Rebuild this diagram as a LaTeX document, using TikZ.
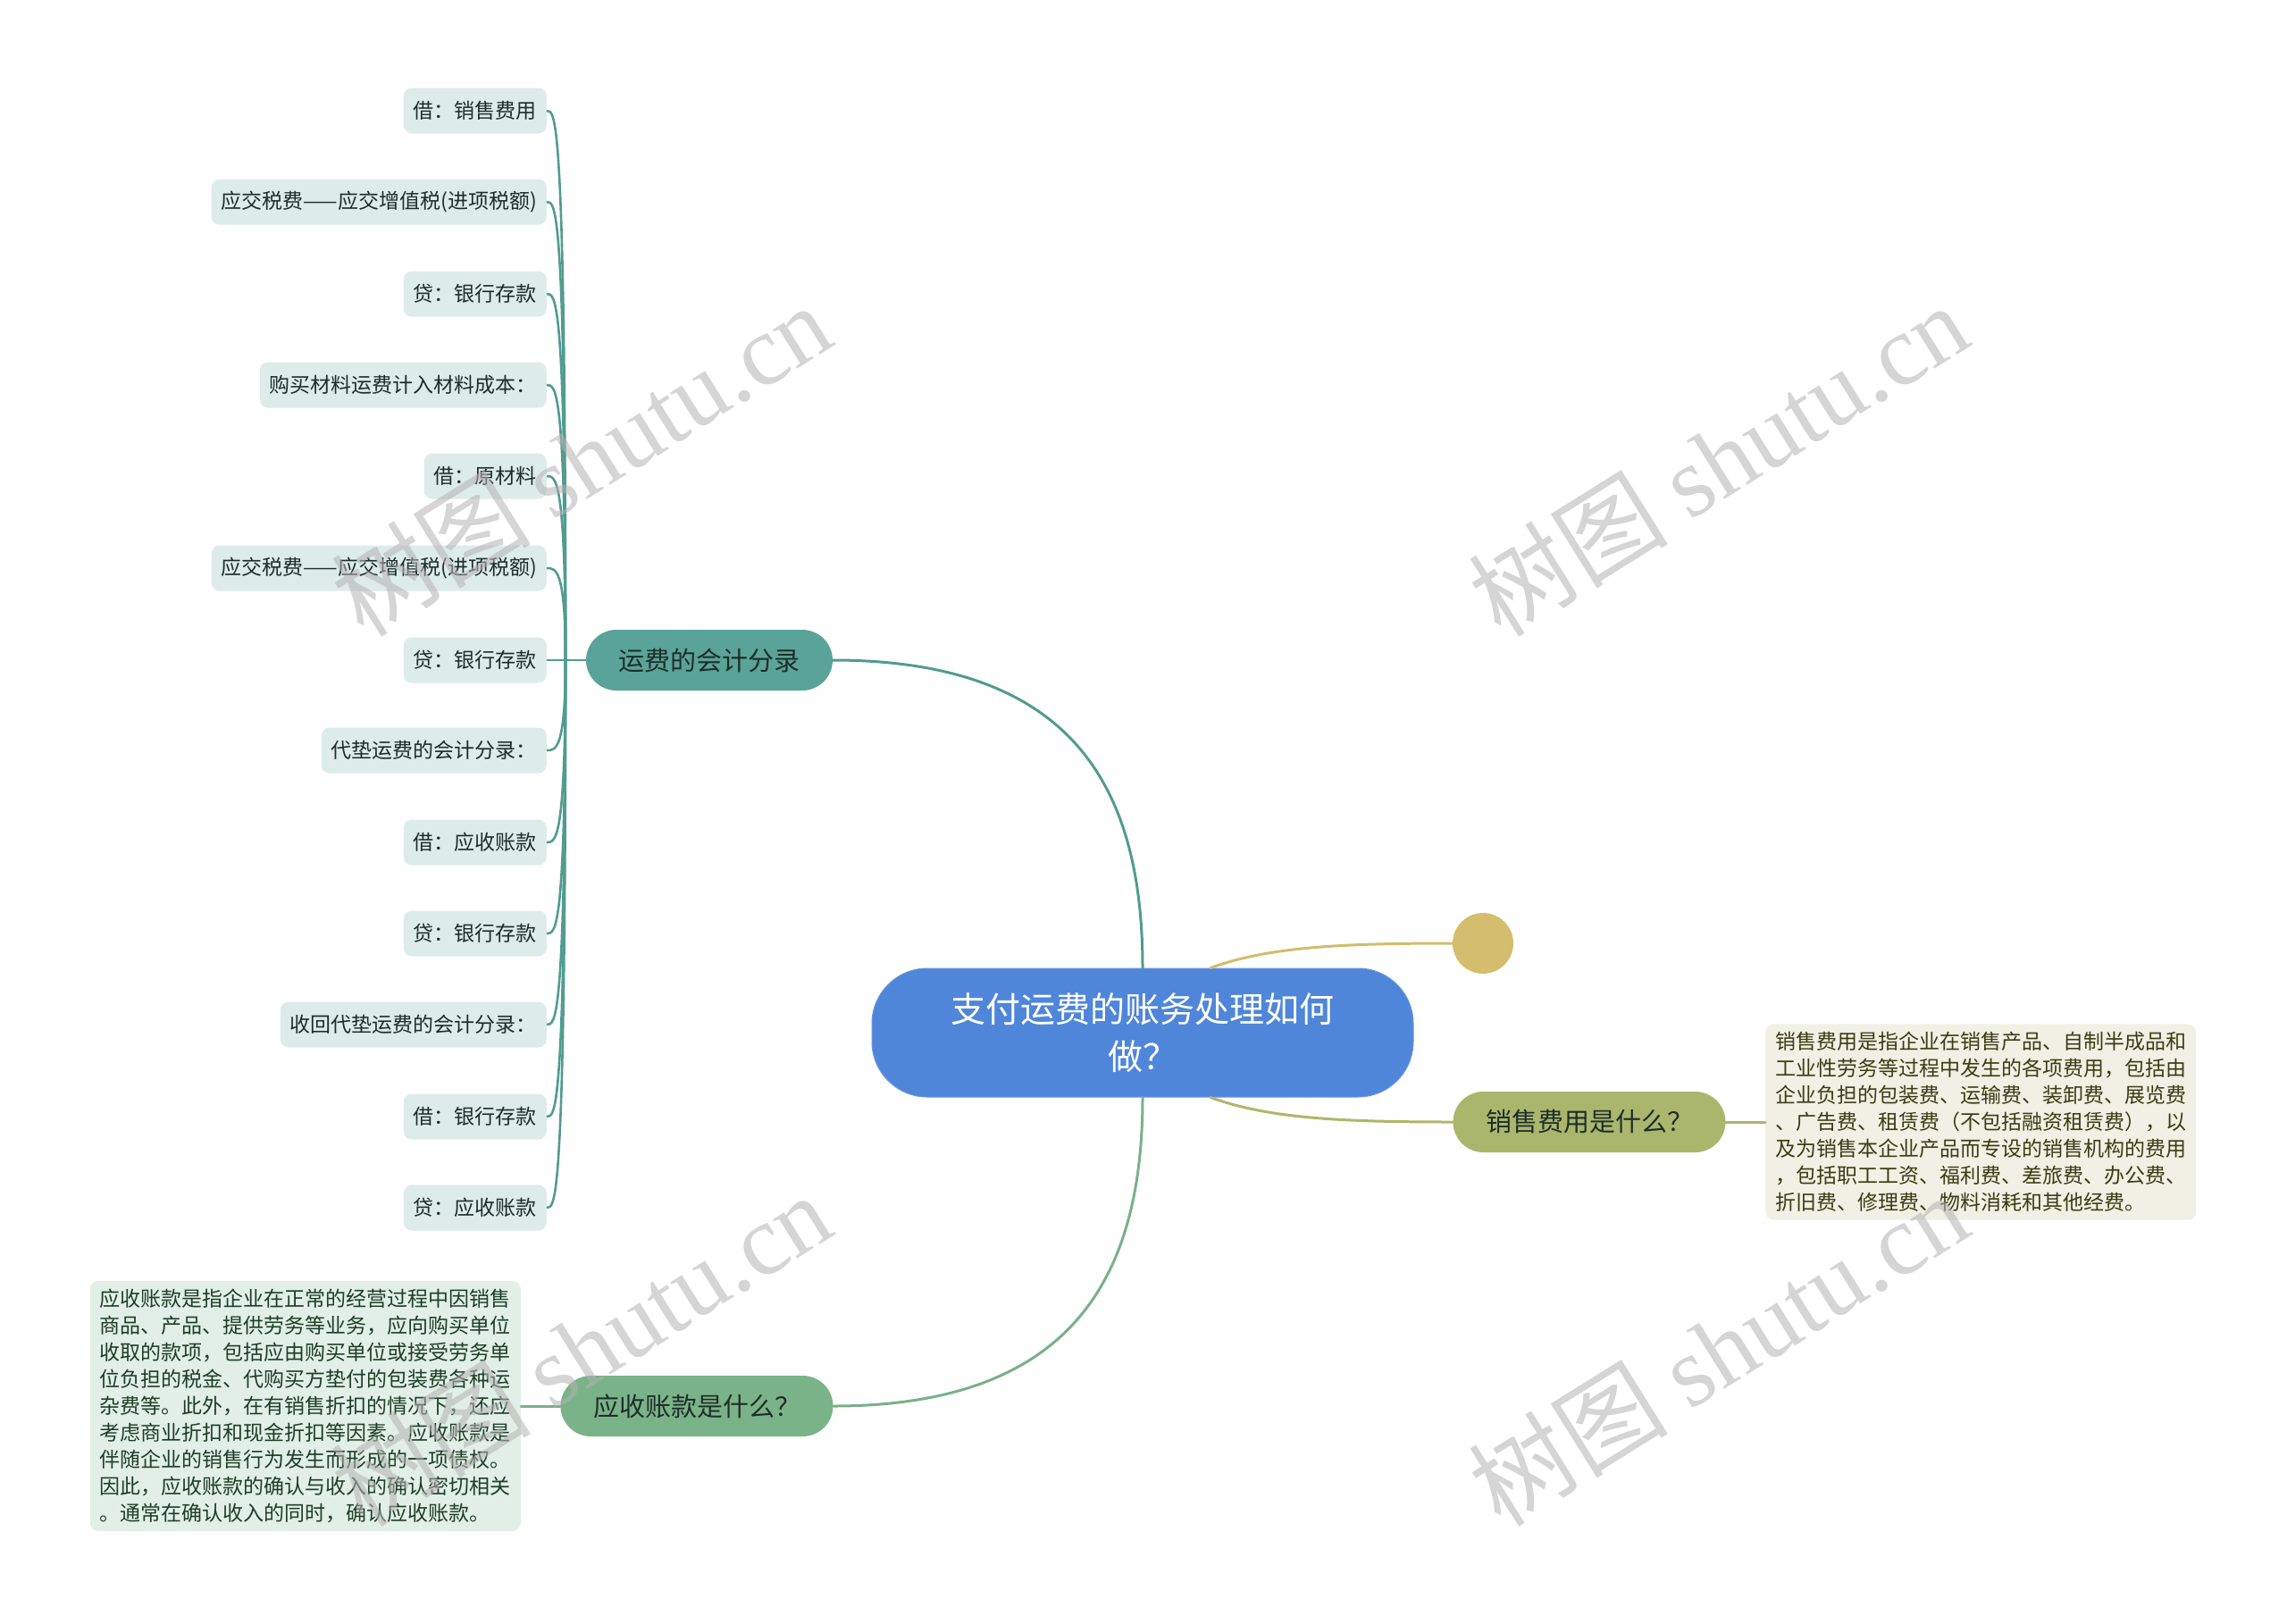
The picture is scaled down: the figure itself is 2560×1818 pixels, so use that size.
\documentclass[tikz,border=0pt]{standalone}
\usepackage{fontspec}
\setmainfont{Noto Sans CJK SC}
\newfontfamily\wmlatin{Liberation Serif}
\usepackage{tikz}
\usetikzlibrary{positioning}
\definecolor{rootfill}{RGB}{79,134,217}
\definecolor{tealfill}{RGB}{90,163,152}
\definecolor{tealline}{RGB}{82,155,144}
\definecolor{leaffill}{RGB}{221,236,233}
\definecolor{olivefill}{RGB}{170,182,108}
\definecolor{oliveline}{RGB}{176,182,106}
\definecolor{goldfill}{RGB}{212,189,108}
\definecolor{goldline}{RGB}{210,188,108}
\definecolor{olivenote}{RGB}{240,241,228}
\definecolor{olivetext}{RGB}{58,60,20}
\definecolor{greenfill}{RGB}{123,179,137}
\definecolor{greenline}{RGB}{122,176,136}
\definecolor{greennote}{RGB}{226,239,230}
\definecolor{greentext}{RGB}{30,62,38}
\definecolor{darktext}{RGB}{30,45,42}
\tikzset{
  rootbox/.style={
    rectangle, rounded corners=62pt, fill=rootfill, draw=rootfill!85!white,
    line width=1pt, text=white, align=center,
    minimum width=606pt, minimum height=144pt,
    font=\fontsize{39}{53}\selectfont},
  branchbox/.style={
    rectangle, rounded corners=34pt, minimum height=68pt,
    text=darktext, font=\fontsize{29}{34}\selectfont},
  leafbox/.style={
    rectangle, rounded corners=9pt, fill=leaffill, anchor=east,
    inner xsep=11pt, minimum height=51pt, text=darktext,
    font=\fontsize{23}{27}\selectfont},
  notebox/.style={
    rectangle, rounded corners=9pt, align=left,
    inner xsep=11pt, inner ysep=9pt,
    font=\fontsize{23}{30}\selectfont},
  link/.style={line width=3pt, line cap=round},
  leaflink/.style={line width=2.6pt, color=tealline},
  watermark/.style={text=black!30, opacity=0.55, rotate=32,
    font=\fontsize{112}{114}\selectfont}
}

\begin{document}
\begin{tikzpicture}[x=1pt,y=-1pt]
  \useasboundingbox (0,0) rectangle (2560,1818);

  %% Root
  \node[rootbox] (root) at (1279,1156) {支付运费的账务处理如何\\做？};

  %% Branches
  \node[branchbox, fill=tealfill, minimum width=276pt]
    (yunfei) at (794,739) {运费的会计分录};
  \node[branchbox, fill=olivefill, minimum width=305pt]
    (xiaoshou) at (1779,1256) {销售费用是什么？};
  \node[branchbox, fill=greenfill, minimum width=305pt]
    (yingshou) at (780,1574) {应收账款是什么？};
  \node[circle, fill=goldfill, minimum size=68pt, inner sep=0pt]
    (dot) at (1660,1056) {};

  %% Notes
  \node[notebox, fill=olivenote, text=olivetext, anchor=west]
    (xsnote) at (1976,1256)
    {销售费用是指企业在销售产品、自制半成品和\\
     工业性劳务等过程中发生的各项费用，包括由\\
     企业负担的包装费、运输费、装卸费、展览费\\
     、广告费、租赁费（不包括融资租赁费），以\\
     及为销售本企业产品而专设的销售机构的费用\\
     ，包括职工工资、福利费、差旅费、办公费、\\
     折旧费、修理费、物料消耗和其他经费。};
  \node[notebox, fill=greennote, text=greentext, anchor=east]
    (ysnote) at (583,1574)
    {应收账款是指企业在正常的经营过程中因销售\\
     商品、产品、提供劳务等业务，应向购买单位\\
     收取的款项，包括应由购买单位或接受劳务单\\
     位负担的税金、代购买方垫付的包装费各种运\\
     杂费等。此外，在有销售折扣的情况下，还应\\
     考虑商业折扣和现金折扣等因素。应收账款是\\
     伴随企业的销售行为发生而形成的一项债权。\\
     因此，应收账款的确认与收入的确认密切相关\\
     。通常在确认收入的同时，确认应收账款。};

  %% Leaves of the shipping-fee branch
  \node[leafbox] (l1)  at (612,124)  {借：销售费用};
  \node[leafbox] (l2)  at (612,226)  {应交税费——应交增值税(进项税额)};
  \node[leafbox] (l3)  at (612,329)  {贷：银行存款};
  \node[leafbox] (l4)  at (612,431)  {购买材料运费计入材料成本：};
  \node[leafbox] (l5)  at (612,533)  {借：原材料};
  \node[leafbox] (l6)  at (612,636)  {应交税费——应交增值税(进项税额)};
  \node[leafbox] (l7)  at (612,739)  {贷：银行存款};
  \node[leafbox] (l8)  at (612,840)  {代垫运费的会计分录：};
  \node[leafbox] (l9)  at (612,943)  {借：应收账款};
  \node[leafbox] (l10) at (612,1045) {贷：银行存款};
  \node[leafbox] (l11) at (612,1147) {收回代垫运费的会计分录：};
  \node[leafbox] (l12) at (612,1250) {借：银行存款};
  \node[leafbox] (l13) at (612,1352) {贷：应收账款};

  \coordinate (spine) at (633,739);

  %% Root -> branches
  \draw[link, tealline] (yunfei.east) .. controls (1200,739) and (1279,880) .. (root.north);
  \draw[link, greenline] (root.south) .. controls (1279,1430) and (1200,1574) .. (yingshou.east);
  \draw[link, goldline] ([xshift=76pt]root.north) .. controls (1420,1060) and (1500,1056) .. (dot.west);
  \draw[link, oliveline] ([xshift=76pt]root.south) .. controls (1420,1252) and (1500,1256) .. (xiaoshou.west);

  %% Branches -> notes
  \draw[link, oliveline] (xiaoshou.east) -- (xsnote.west);
  \draw[link, greenline] (yingshou.west) -- (ysnote.east);

  %% Branch -> leaves
  \draw[leaflink] (yunfei.west) -- (spine);
  \draw[leaflink] (spine) .. controls (633,124)  and (622,124)  .. (l1.east);
  \draw[leaflink] (spine) .. controls (633,226)  and (622,226)  .. (l2.east);
  \draw[leaflink] (spine) .. controls (633,329)  and (622,329)  .. (l3.east);
  \draw[leaflink] (spine) .. controls (633,431)  and (622,431)  .. (l4.east);
  \draw[leaflink] (spine) .. controls (633,533)  and (622,533)  .. (l5.east);
  \draw[leaflink] (spine) .. controls (633,636)  and (622,636)  .. (l6.east);
  \draw[leaflink] (spine) -- (l7.east);
  \draw[leaflink] (spine) .. controls (633,840)  and (622,840)  .. (l8.east);
  \draw[leaflink] (spine) .. controls (633,943)  and (622,943)  .. (l9.east);
  \draw[leaflink] (spine) .. controls (633,1045) and (622,1045) .. (l10.east);
  \draw[leaflink] (spine) .. controls (633,1147) and (622,1147) .. (l11.east);
  \draw[leaflink] (spine) .. controls (633,1250) and (622,1250) .. (l12.east);
  \draw[leaflink] (spine) .. controls (633,1352) and (622,1352) .. (l13.east);

  %% Watermarks
  \node[watermark] (wm1) at (650,514)   {树图 {\wmlatin shutu.cn}};
  \node[watermark] (wm2) at (1923,514)  {树图 {\wmlatin shutu.cn}};
  \node[watermark] (wm3) at (650,1510)  {树图 {\wmlatin shutu.cn}};
  \node[watermark] (wm4) at (1923,1510) {树图 {\wmlatin shutu.cn}};

\end{tikzpicture}
\end{document}
